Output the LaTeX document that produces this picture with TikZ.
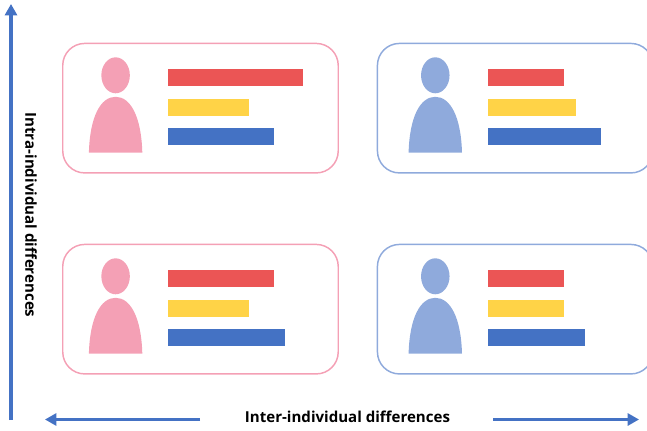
\documentclass[tikz,border=0pt]{standalone}
\usepackage{fontspec}
\setmainfont{Open Sans}
\usepackage{xcolor}
\definecolor{womanColor}{HTML}{F4A0B5}
\definecolor{manColor}{HTML}{8FAADC}
\definecolor{redBar}{HTML}{EB5555}
\definecolor{yellowBar}{HTML}{FFD347}
\definecolor{blueBar}{HTML}{4472C4}
\usetikzlibrary{arrows.meta,calc,positioning,shapes.geometric}
\tikzset{
  cardBox/.style={
    rectangle,
    rounded corners=22*0.75pt,
    draw=#1,
    line width=1.1pt,
    minimum width=275.5*0.75pt,
    minimum height=129.5*0.75pt,
    anchor=north west
 },
  headShape/.style={
    ellipse,
    fill=#1,
    inner sep=0pt,
    minimum width=28.5*0.75pt,
    minimum height=36*0.75pt
 },
  barBox/.style={
    rectangle,
    inner sep=0pt,
    outer sep=0pt,
    minimum height=17*0.75pt,
    anchor=west
 },
  axisLine/.style={
    -{Triangle[length=8.5pt,width=9pt]},
    line width=2.8pt,
    color=blueBar
 },
  axisText/.style={
    font=\bfseries\fontsize{11.3pt}{13pt}\selectfont,
    inner sep=0pt
 }
}
% card: name, north west corner, colour, inner shift, then the three bar lengths
\newcommand{\personCard}[7]{
  \node[cardBox=#3] (#1) at (#2) {};
  \node[headShape=#3] (#1Head) at ($(#1.north west)+(53.6+#4,32.6)$) {};
  \fill[#3] ($(#1Head)+(-26.7,77.3)$) .. controls +(1,-36) and +(-15,0) .. ($(#1Head)+(0,21.5)$)
    .. controls +(15,0) and +(-1,-36) .. ($(#1Head)+(26.7,77.3)$) -- cycle;
  \node[barBox, fill=redBar, minimum width=#5*0.75pt] (#1Red) at ($(#1.north west)+(106.3+#4,35.3)$) {};
  \node[barBox, fill=yellowBar, minimum width=#6*0.75pt, below=13*0.75pt of #1Red.south west, anchor=north west] (#1Yellow) {};
  \node[barBox, fill=blueBar, minimum width=#7*0.75pt, below=12*0.75pt of #1Yellow.south west, anchor=north west] (#1Blue) {};
}
\begin{document}
\begin{tikzpicture}[x=0.75pt,y=-0.75pt]

  \path[use as bounding box, clip] (0,0) rectangle (647,431);

  % top row
  \personCard{cardA}{62,42.7}{womanColor}{0}{134.5}{81}{106}
  \personCard{cardB}{376.7,42.7}{manColor}{5}{75.5}{87.5}{112.5}

  % bottom row
  \personCard{cardC}{62,243.7}{womanColor}{0}{106}{81}{117}
  \personCard{cardD}{376.7,243.7}{manColor}{5}{75.5}{75.5}{96.5}

  % vertical axis
  \coordinate (yFrom) at (11,420);
  \coordinate (yTo) at (11,4);
  \draw[axisLine] (yFrom) -- (yTo);
  \node[axisText, rotate=-90] (yLabel) at (31,215) {Intra-individual differences};

  % horizontal axis
  \node[axisText] (xLabel) at (347.5,417) {Inter-individual differences};
  \coordinate (xLeftFrom) at (200,419.5);
  \coordinate (xLeftTo) at (45,419.5);
  \coordinate (xRightFrom) at (493,419.5);
  \coordinate (xRightTo) at (639,419.5);
  \draw[axisLine] (xLeftFrom) -- (xLeftTo);
  \draw[axisLine] (xRightFrom) -- (xRightTo);

\end{tikzpicture}
\end{document}
